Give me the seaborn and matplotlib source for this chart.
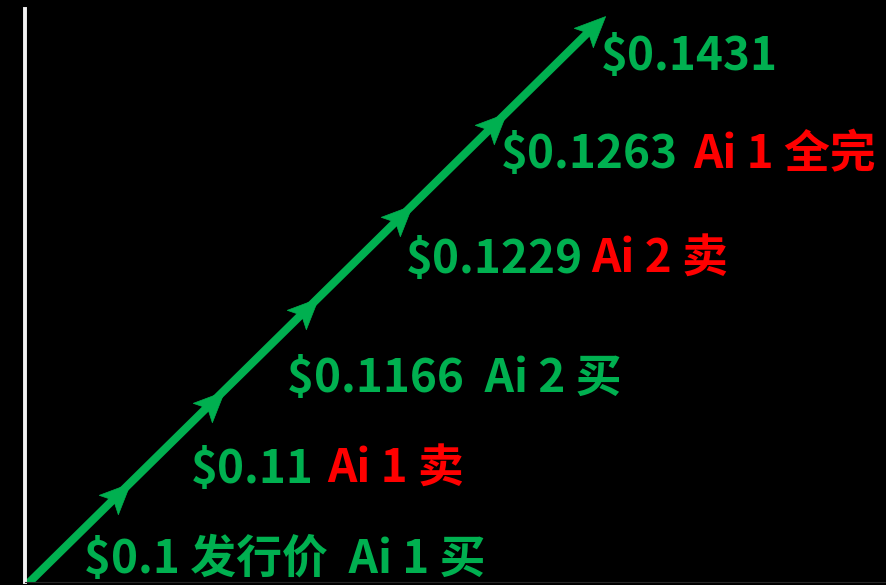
import numpy as np
import matplotlib
matplotlib.use("Agg")
import matplotlib.pyplot as plt
from matplotlib.path import Path
import seaborn as sns
import pandas as pd

# ---- data ----
stages = [0, 1, 2, 3, 4, 5]
tip_stage = 6.05
prices = ["$0.1", "$0.11", "$0.1166", "$0.1229", "$0.1263", "$0.1431"]
notes = [" 发行价  Ai 1 买", "Ai 1 卖", "  Ai 2 买", "Ai 2 卖", "Ai 1 全完", ""]
note_is_sell = [False, True, False, True, True, False]

GREEN = "#00B050"
RED = "#FF0000"

sns.set_theme(style="dark")
plt.rcParams['font.family'] = ['Noto Sans CJK SC', 'DejaVu Sans']

W, H, DPI = 886, 585, 100
fig = plt.figure(figsize=(W / DPI, H / DPI), dpi=DPI, facecolor="black")

# axes placement (pixels from top-left)
ax_left, ax_top, ax_bottom = 25, 9, 582
ax = fig.add_axes([ax_left / W, (H - ax_bottom) / H, (W - ax_left) / W, (ax_bottom - ax_top) / H])
ax.set_facecolor("black")

# pixel mapping of stage units
x0_px, x_step = 24, 94
y0_px, y_step = 587.5, 92.5
ax.set_xlim((ax_left - x0_px) / x_step, (W - x0_px) / x_step)
ax.set_ylim((y0_px - ax_bottom) / y_step, (y0_px - ax_top) / y_step)

line_x = stages + [tip_stage]
df = pd.DataFrame({"x": line_x, "y": line_x})
sns.lineplot(data=df, x="x", y="y", ax=ax, color=GREEN, lw=5.8, sort=False,
             solid_capstyle="butt")

# arrowhead marker (stealth shape) rotated along the line
ang = np.arctan2(y_step, x_step)
base = np.array([[1.0, 0.0], [-0.8, 0.8], [-0.4, 0.0], [-0.8, -0.8], [1.0, 0.0]])
R = np.array([[np.cos(ang), -np.sin(ang)], [np.sin(ang), np.cos(ang)]])
verts = base @ R.T
codes = [Path.MOVETO, Path.LINETO, Path.LINETO, Path.LINETO, Path.CLOSEPOLY]
head = Path(verts, codes)
unit_px = 17
maxabs = np.abs(verts).max()
ms = 2 * maxabs * unit_px * 72 / DPI
head_x = stages[1:] + [tip_stage]
ax.plot(head_x, head_x, linestyle="none", marker=head, markersize=ms,
        markerfacecolor=GREEN, markeredgecolor=GREEN, markeredgewidth=0.5)

ax.set_xticks([])
ax.set_yticks([])
ax.set_xlabel("")
ax.set_ylabel("")
for s in ["top", "right"]:
    ax.spines[s].set_visible(False)
ax.spines["left"].set_color("#f2f2f2")
ax.spines["left"].set_linewidth(2.8)
ax.spines["bottom"].set_color("#262626")
ax.spines["bottom"].set_linewidth(0.8)

# ---- labels ----
FS = 33
label_pos = [(84, 573), (191, 483), (287, 392), (406, 273), (501, 168), (601, 70)]
note_x = [None, 327, None, 591, 693, None]

def fp(x, y):
    return x / W, 1 - y / H

for i, (p, n) in enumerate(zip(prices, notes)):
    x, y = label_pos[i]
    if note_is_sell[i]:
        fig.text(*fp(x, y), p, color=GREEN, fontsize=FS, fontweight="bold",
                 ha="left", va="baseline")
        fig.text(*fp(note_x[i], y), n, color=RED, fontsize=FS, fontweight="bold",
                 ha="left", va="baseline")
    else:
        fig.text(*fp(x, y), p + n, color=GREEN, fontsize=FS, fontweight="bold",
                 ha="left", va="baseline")

fig.savefig("out.png", dpi=DPI, facecolor="black")
